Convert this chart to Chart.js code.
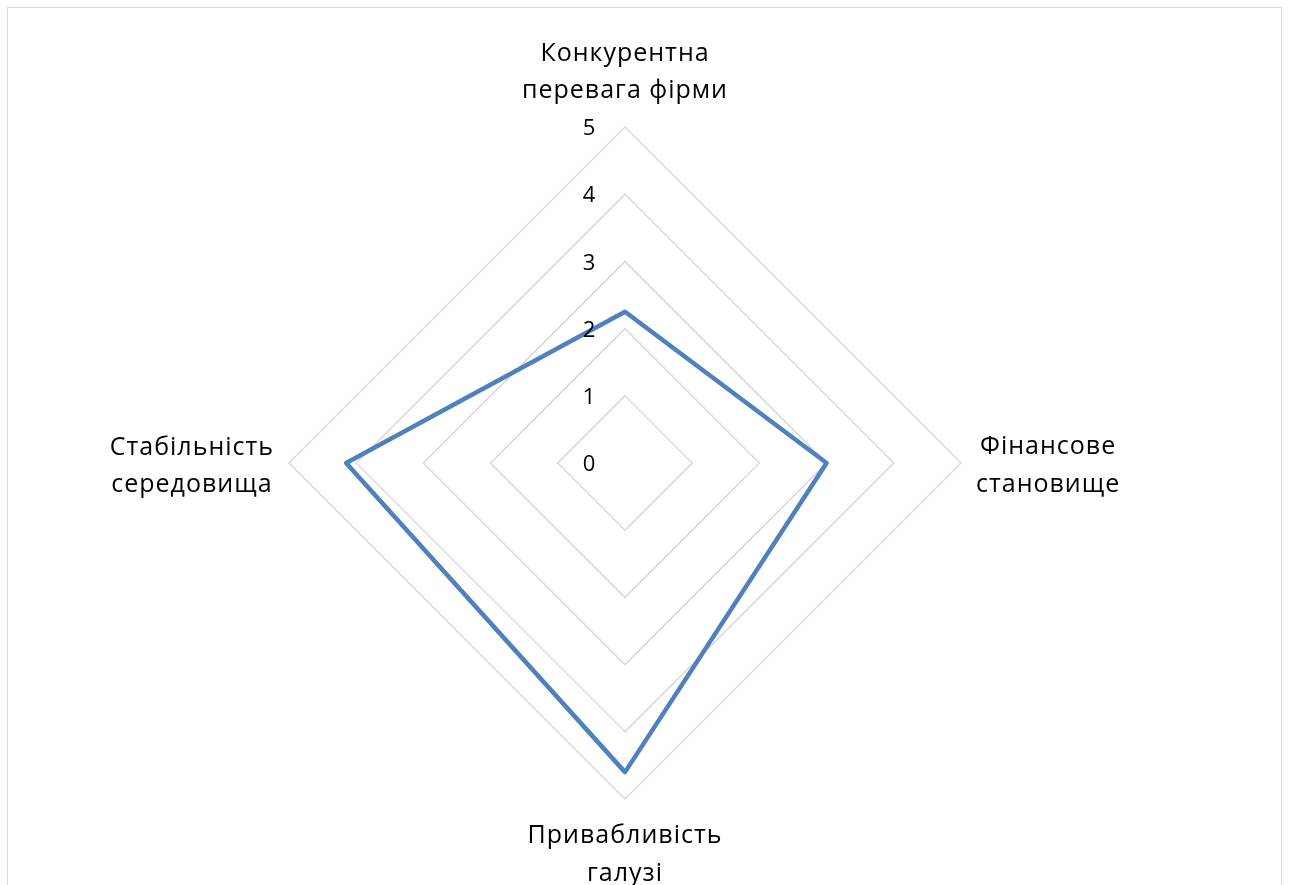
<!DOCTYPE html>
<html>
<head>
<meta charset="utf-8">
<script src="https://cdn.jsdelivr.net/npm/chart.js@4/dist/chart.umd.min.js"></script>
<style>
  html, body { margin: 0; padding: 0; background: #ffffff; overflow: hidden; }
  #wrap { position: absolute; left: 0; top: 0; width: 1290px; height: 885px; }
  #frame { position: absolute; left: 7px; top: 7px; width: 1275px; height: 900px;
           border: 1.5px solid #d9d9d9; box-sizing: border-box; pointer-events: none; }
</style>
</head>
<body>
<div id="wrap">
  <canvas id="c" width="1290" height="885"></canvas>
  <div id="frame"></div>
</div>
<script>
// ---- data ----
const categories = [
  ["Конкурентна", "перевага фірми"],
  ["Фінансове", "становище"],
  ["Привабливість", "галузі"],
  ["Стабільність", "середовища"]
];
const seriesValues = [2.25, 3, 4.6, 4.15];
const tickValues = [0, 1, 2, 3, 4, 5];

const FONT = '"Open Sans", "DejaVu Sans", sans-serif';

const labelPlugin = {
  id: 'labelPlugin',
  afterDraw(chart) {
    const scale = chart.scales.r;
    const ctx = chart.ctx;
    ctx.save();
    ctx.fillStyle = '#000000';
    // tick labels
    ctx.font = '22px ' + FONT;
    ctx.textAlign = 'center';
    ctx.textBaseline = 'middle';
    tickValues.forEach(v => {
      const p = scale.getPointPositionForValue(0, v);
      ctx.fillText(String(v), p.x - 36, p.y + 2);
    });
    // point labels
    ctx.font = '25px ' + FONT;
    if ('letterSpacing' in ctx) ctx.letterSpacing = '1px';
    ctx.textBaseline = 'alphabetic';
    const R = scale.drawingArea;
    categories.forEach((lines, i) => {
      const p = scale.getPointPosition(i, R);
      const widths = lines.map(l => ctx.measureText(l).width);
      const maxW = Math.max(...widths);
      let cx, baselines;
      if (i === 0) {        // top
        cx = p.x; baselines = [p.y - 66, p.y - 29];
      } else if (i === 1) { // right
        cx = p.x + 15 + maxW / 2; baselines = [p.y - 9, p.y + 29];
      } else if (i === 2) { // bottom
        cx = p.x; baselines = [p.y + 44, p.y + 82];
      } else {              // left
        cx = p.x - 15 - maxW / 2; baselines = [p.y - 8, p.y + 29];
      }
      ctx.textAlign = 'center';
      lines.forEach((l, j) => ctx.fillText(l, cx, baselines[j]));
    });
    ctx.restore();
  }
};

new Chart(document.getElementById('c'), {
  type: 'radar',
  data: {
    labels: categories,
    datasets: [{
      data: seriesValues,
      borderColor: '#4f81bd',
      borderWidth: 4.5,
      backgroundColor: 'rgba(0,0,0,0)',
      fill: false,
      pointRadius: 0,
      pointHoverRadius: 0,
      tension: 0,
      borderJoinStyle: 'round'
    }]
  },
  options: {
    responsive: false,
    animation: false,
    devicePixelRatio: 1,
    layout: { padding: { left: 0, right: 40, top: 127, bottom: 86 } },
    plugins: { legend: { display: false }, tooltip: { enabled: false }, title: { display: false } },
    scales: {
      r: {
        min: 0,
        max: 5,
        beginAtZero: true,
        angleLines: { display: false },
        grid: { color: '#d9d9d9', lineWidth: 1.5, circular: false },
        ticks: { display: false, stepSize: 1, showLabelBackdrop: false },
        pointLabels: { display: false }
      }
    }
  },
  plugins: [labelPlugin]
});
</script>
</body>
</html>
